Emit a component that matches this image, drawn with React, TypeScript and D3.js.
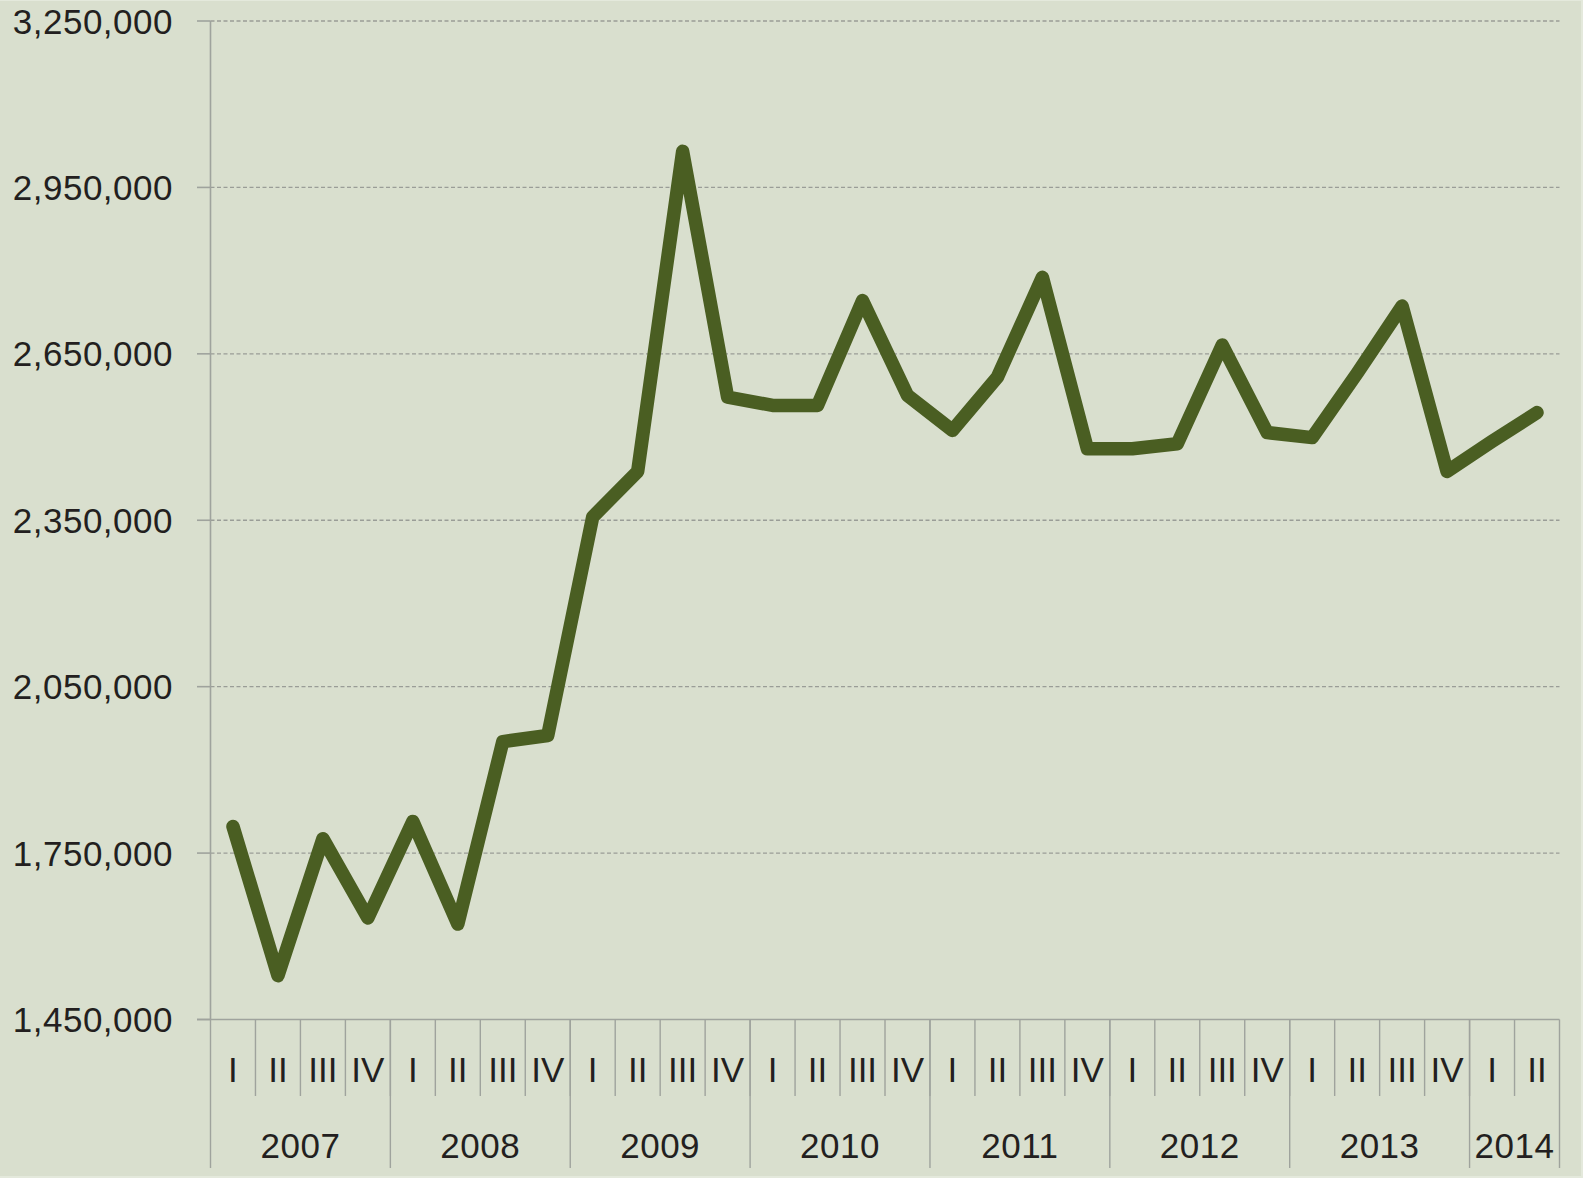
import React from "react";
import * as d3 from "d3";

const years = ["2007", "2008", "2009", "2010", "2011", "2012", "2013", "2014"];
const quartersPerYear = [4, 4, 4, 4, 4, 4, 4, 2];
const quarterNames = ["I", "II", "III", "IV"];
const values = [
  1798000, 1529000, 1776000, 1633000,
  1807000, 1622000, 1951000, 1962000,
  2356000, 2438000, 3015000, 2572000,
  2557000, 2557000, 2746000, 2575000,
  2512000, 2608000, 2788000, 2479000,
  2479000, 2488000, 2666000, 2508000,
  2499000, 2615000, 2736000, 2438000,
  2492000, 2544000,
];
const yTicks = [1450000, 1750000, 2050000, 2350000, 2650000, 2950000, 3250000];

const W = 1583;
const H = 1178;
const left = 210.5;
const right = 1559.5;
const top = 21;
const bottom = 1019.5;

type Q = { key: string; label: string; year: string; idx: number };
const quarters: Q[] = [];
years.forEach((y, yi) => {
  for (let q = 0; q < quartersPerYear[yi]; q++) {
    quarters.push({ key: `${y}-${q}`, label: quarterNames[q], year: y, idx: quarters.length });
  }
});

const font = "'Liberation Sans', Arial, Helvetica, sans-serif";
const textColor = "#231f20";
const axisColor = "#9fa39d";

export default function App() {
  const x = d3.scaleBand<string>().domain(quarters.map((q) => q.key)).range([left, right]).padding(0);
  const y = d3.scaleLinear().domain([1450000, 3250000]).range([bottom, top]);
  const fmt = d3.format(",");
  const line = d3
    .line<number>()
    .x((_, i) => (x(quarters[i].key) as number) + x.bandwidth() / 2)
    .y((d) => y(d));

  // year boundaries
  const yearSpans: { year: string; x0: number; x1: number }[] = [];
  let start = 0;
  years.forEach((yr, yi) => {
    const n = quartersPerYear[yi];
    const x0 = x(quarters[start].key) as number;
    const x1 = (x(quarters[start + n - 1].key) as number) + x.bandwidth();
    yearSpans.push({ year: yr, x0, x1 });
    start += n;
  });

  return (
    <svg
      width={W}
      height={H}
      style={{ position: "absolute", left: 0, top: 0, display: "block" }}
      fontFamily={font}
    >
      <rect x={0} y={0} width={W} height={H} fill="#e4e9dc" />
      <rect x={0} y={1} width={1581} height={1175} fill="#d9dfce" />

      {/* gridlines */}
      {yTicks
        .filter((t) => t !== 1450000)
        .map((t) => (
          <line
            key={"g" + t}
            x1={left}
            x2={right}
            y1={y(t)}
            y2={y(t)}
            stroke="#9a9d97"
            strokeWidth={1.3}
            strokeDasharray="4 2.5"
          />
        ))}

      {/* y ticks and labels */}
      {yTicks.map((t) => (
        <g key={"t" + t}>
          <line x1={197} x2={left} y1={y(t)} y2={y(t)} stroke={axisColor} strokeWidth={1.6} />
          <text
            x={173}
            y={y(t) + 12.5}
            textAnchor="end"
            fontSize={35}
            letterSpacing={0.5}
            fill={textColor}
          >
            {fmt(t)}
          </text>
        </g>
      ))}

      {/* y axis */}
      <line x1={left} x2={left} y1={top} y2={bottom} stroke={axisColor} strokeWidth={1.6} />

      {/* x axis */}
      <line x1={197} x2={right} y1={bottom} y2={bottom} stroke={axisColor} strokeWidth={1.6} />

      {/* quarter separators */}
      {quarters.slice(1).map((q) => {
        const xx = x(q.key) as number;
        return (
          <line key={"qs" + q.key} x1={xx} x2={xx} y1={bottom} y2={1096} stroke={axisColor} strokeWidth={1.4} />
        );
      })}
      {/* year separators */}
      {[yearSpans[0].x0, ...yearSpans.map((s) => s.x1)].map((xx, i) => (
        <line key={"ys" + i} x1={xx} x2={xx} y1={bottom} y2={1168} stroke={axisColor} strokeWidth={1.4} />
      ))}

      {/* quarter labels */}
      {quarters.map((q) => (
        <text
          key={"ql" + q.key}
          x={(x(q.key) as number) + x.bandwidth() / 2}
          y={1081.5}
          textAnchor="middle"
          fontSize={35}
          fill={textColor}
        >
          {q.label}
        </text>
      ))}

      {/* year labels */}
      {yearSpans.map((s) => (
        <text
          key={"yl" + s.year}
          x={(s.x0 + s.x1) / 2}
          y={1157.5}
          textAnchor="middle"
          fontSize={35}
          letterSpacing={0.5}
          fill={textColor}
        >
          {s.year}
        </text>
      ))}

      {/* data line */}
      <path
        d={line(values) || ""}
        fill="none"
        stroke="#4a5e22"
        strokeWidth={13.5}
        strokeLinejoin="round"
        strokeLinecap="round"
      />
    </svg>
  );
}
